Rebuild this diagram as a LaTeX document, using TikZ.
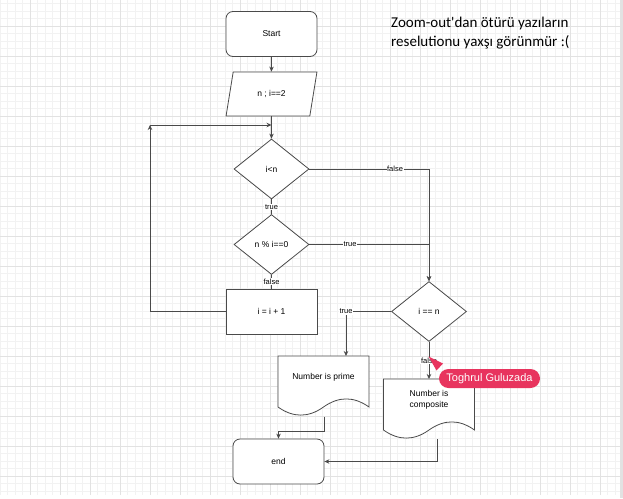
\documentclass[tikz,border=0pt]{standalone}
\usepackage{fontspec}
\setmainfont{Liberation Sans}
\newfontfamily\notefont{Carlito}
\usetikzlibrary{shapes.geometric,arrows.meta}
\definecolor{tagred}{HTML}{E8345E}
\definecolor{gridmajor}{HTML}{E2E2E2}
\definecolor{gridminor}{HTML}{F2F2F2}
\definecolor{edgegray}{HTML}{4A4A4A}

\begin{document}
\begin{tikzpicture}[x=1pt, y=-1pt]
  \tikzstyle{minor}=[draw=gridminor, line width=0.6pt]
  \tikzstyle{major}=[draw=gridmajor, line width=0.8pt]
  \tikzstyle{base}=[draw=edgegray, line width=0.8pt, fill=white, inner sep=0pt, align=center, font=\fontsize{8.5}{10}\selectfont]
  \tikzstyle{term}=[base, rectangle, rounded corners=7pt, minimum width=91pt, minimum height=45pt]
  \tikzstyle{proc}=[base, rectangle, minimum width=91pt, minimum height=45pt]
  \tikzstyle{io}=[base, trapezium, trapezium left angle=70, trapezium right angle=110, trapezium stretches=true, minimum width=91pt, minimum height=44pt]
  \tikzstyle{test}=[base, diamond, minimum width=75pt, minimum height=60pt]
  \tikzstyle{doc}=[inner sep=0pt, align=center, font=\fontsize{8.5}{10.5}\selectfont]
  \tikzstyle{line}=[draw=edgegray, line width=0.8pt]
  \tikzstyle{flow}=[line, -{Stealth[length=5pt, width=4.5pt]}]
  \tikzstyle{cond}=[fill=white, inner sep=0.6pt, font=\fontsize{7.5}{8}\selectfont]
  \tikzstyle{tag}=[fill=tagred, text=white, rounded corners=9.5pt, minimum width=101pt, minimum height=19pt, inner sep=0pt, font=\fontsize{11}{12}\selectfont]

  \useasboundingbox (0,0) rectangle (623,498);

  % grid
  \fill[white] (0,0) rectangle (623,498);
  \foreach \i in {0,...,82} {\draw[minor] (\i*7.5,0) -- (\i*7.5,495);}
  \foreach \j in {0,...,65} {\draw[minor] (0,3.5+\j*7.5) -- (620,3.5+\j*7.5);}
  \foreach \i in {1,...,20} {\draw[major] (\i*30,0) -- (\i*30,495);}
  \foreach \j in {0,...,15} {\draw[major] (0,26+\j*30) -- (620,26+\j*30);}
  \fill[gridmajor] (620,0) rectangle (623,498);

  % documents
  \draw[line, fill=white, shift={(278,356)}] (0,0) -- (91,0) -- (91,51)
    .. controls (75.83,40.2) and (60.67,40.2) .. (45.5,51)
    .. controls (30.33,61.8) and (15.17,61.8) .. (0,51) -- cycle;
  \draw[line, fill=white, shift={(383.5,379)}] (0,0) -- (91,0) -- (91,51)
    .. controls (75.83,40.2) and (60.67,40.2) .. (45.5,51)
    .. controls (30.33,61.8) and (15.17,61.8) .. (0,51) -- cycle;

  \node[term] (start) at (271.5, 34)    {Start};
  \node[io]   (para)  at (271.5, 94)    {n ; i==2};
  \node[test] (d1)    at (271.5, 169)   {i<n};
  \node[test] (d2)    at (271.5, 244.5) {n \% i==0};
  \node[proc] (inc)   at (271.5, 311.5) {i = i + 1};
  \node[test] (d3)    at (429, 311.5)   {i == n};
  \node[doc]  (prime) at (323.5, 377)   {Number is prime};
  \node[doc]  (comp)  at (429, 400)     {Number is\\composite};
  \node[term] (end)   at (278.5, 461.5) {end};

  \coordinate (joint)    at (271.5, 125);
  \coordinate (corner)   at (150, 125);
  \coordinate (primein)  at (346, 356);
  \coordinate (primeout) at (324, 416.5);
  \coordinate (compin)   at (429, 379);
  \coordinate (compout)  at (437, 439);

  \draw[flow] (start) -- (start |- para.north);
  \draw[flow] (para.south -| d1.north) -- (d1.north);
  \draw[flow] (inc.west) -| (corner);
  \draw[flow] (corner) -- (joint);
  \draw[line] (d1.south) -- (d2.north) node[cond, midway] {true};
  \draw[line] (d2.south) -- (inc.north) node[cond, midway] {false};
  \draw[flow] (d1.east) -| (d3.north) node[cond, pos=0.358] {false};
  \draw[flow] (d2.east) -| (d3.north) node[cond, pos=0.17] {true};
  \draw[flow] (d3.west) -| (primein) node[cond, pos=0.5] {true};
  \draw[flow] (d3.south) -- (compin) node[cond, midway] {false};
  \draw[flow] (primeout) -- ++(0,15) -| (end.north);
  \draw[flow] (compout) |- (end.east);

  % note
  \node[anchor=base west, align=left, inner sep=0pt, font=\notefont\fontsize{15}{19}\selectfont] (note) at (391, 46)
    {Zoom-out'dan ötürü yazıların\\reselutionu yaxşı görünmür :(};

  % collaborator cursor
  \fill[tagred] (428.5,356.5) -- (443,363.5) -- (436.5,370.5) -- cycle;
  \node[tag] (user) at (489.5, 378.5) {Toghrul Guluzada};
\end{tikzpicture}
\end{document}
